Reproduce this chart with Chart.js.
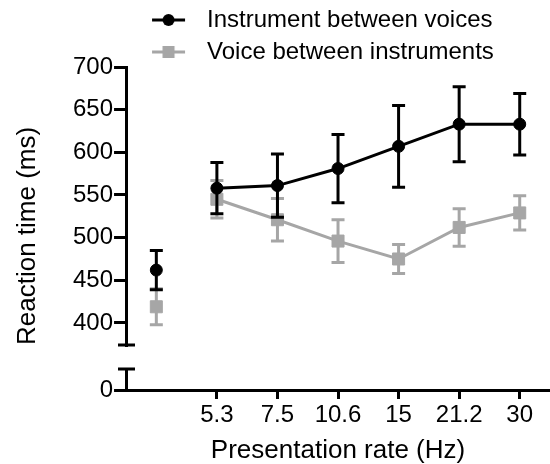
<!DOCTYPE html>
<html>
<head>
<meta charset="utf-8">
<script src="https://cdn.jsdelivr.net/npm/chart.js@4/dist/chart.umd.min.js"></script>
<style>
  html, body { margin: 0; padding: 0; background: #fff; }
  #wrap { width: 550px; height: 464px; }
</style>
</head>
<body>
<div id="wrap"><canvas id="c" width="550" height="464"></canvas></div>
<script>
// ---- data ----
const categories = ['', '5.3', '7.5', '10.6', '15', '21.2', '30'];
const seriesNames = ['Instrument between voices', 'Voice between instruments'];
const instrumentMeans = [462, 558, 561, 581, 607, 633, 633];
const instrumentErrors = [23, 30, 37, 40, 48, 44, 36];
const voiceMeans = [419, 545, 521, 496, 475, 512, 529];
const voiceErrors = [21, 22, 25, 25, 17, 22, 20];
const upperTicks = [400, 450, 500, 550, 600, 650, 700];
const lowerTicks = [0];

const BLACK = '#000000';
const GRAY = '#a6a6a6';
const FONT = "'Liberation Sans', Arial, Helvetica, sans-serif";

Chart.defaults.font.family = FONT;
Chart.defaults.color = '#000';

function makeGlyph(color, shape) {
  const c = document.createElement('canvas');
  c.width = 61; c.height = 16;
  const g = c.getContext('2d');
  g.strokeStyle = color; g.fillStyle = color; g.lineWidth = 3;
  g.beginPath(); g.moveTo(18, 8); g.lineTo(51, 8); g.stroke();
  if (shape === 'circle') {
    g.beginPath(); g.arc(34.5, 8, 6, 0, Math.PI * 2); g.fill();
  } else {
    g.fillRect(34.5 - 6, 2, 12, 12);
  }
  return c;
}
const glyphs = [makeGlyph(BLACK, 'circle'), makeGlyph(GRAY, 'square')];

const errorBars = {
  id: 'errorBars',
  beforeDatasetDraw(chart, args) {
    const ds = chart.data.datasets[args.index];
    const meta = args.meta;
    const ys = chart.scales[meta.yAxisID];
    const ctx = chart.ctx;
    ctx.save();
    ctx.strokeStyle = ds.borderColor;
    ctx.lineWidth = 3;
    meta.data.forEach((pt, j) => {
      const v = ds.data[j], e = ds.errorValues[j];
      const top = ys.getPixelForValue(v + e), bot = ys.getPixelForValue(v - e);
      ctx.beginPath();
      ctx.moveTo(pt.x, top); ctx.lineTo(pt.x, bot);
      ctx.moveTo(pt.x - 6.5, top); ctx.lineTo(pt.x + 6.5, top);
      ctx.moveTo(pt.x - 6.5, bot); ctx.lineTo(pt.x + 6.5, bot);
      ctx.stroke();
    });
    ctx.restore();
  }
};

const axisBreak = {
  id: 'axisBreak',
  beforeLayout(chart) {
    const lg = chart.legend;
    if (lg && !lg._trimmed) {
      const f = lg.fit.bind(lg);
      lg.fit = function () { f(); this.height -= 7; };
      lg._trimmed = true;
    }
  },
  afterDraw(chart) {
    const t = chart.scales.yTop, b = chart.scales.yBottom;
    const x = Math.round(chart.chartArea.left - 1.5) + 1.5;
    const ctx = chart.ctx;
    ctx.save();
    ctx.strokeStyle = BLACK; ctx.lineWidth = 3;
    ctx.beginPath();
    ctx.moveTo(x - 8.5, t.bottom); ctx.lineTo(x + 8.5, t.bottom);
    ctx.moveTo(x - 8.5, b.top); ctx.lineTo(x + 8.5, b.top);
    ctx.stroke();
    ctx.restore();
  }
};

function keepTicks(list) {
  return function (scale) {
    scale.ticks = list.map(v => ({ value: v }));
  };
}

new Chart(document.getElementById('c'), {
  type: 'line',
  data: {
    labels: categories,
    datasets: [
      {
        label: seriesNames[0],
        data: instrumentMeans,
        errorValues: instrumentErrors,
        yAxisID: 'yTop',
        borderColor: BLACK,
        backgroundColor: BLACK,
        borderWidth: 3,
        pointStyle: 'circle',
        pointRadius: 6,
        pointBorderWidth: 1,
        pointHoverRadius: 6,
        tension: 0,
        segment: { borderColor: c => c.p0DataIndex === 0 ? 'rgba(0,0,0,0)' : undefined }
      },
      {
        label: seriesNames[1],
        data: voiceMeans,
        errorValues: voiceErrors,
        yAxisID: 'yTop',
        borderColor: GRAY,
        backgroundColor: GRAY,
        borderWidth: 3,
        pointStyle: 'rect',
        pointRadius: 8.5,
        pointBorderWidth: 1,
        pointHoverRadius: 8.5,
        tension: 0,
        segment: { borderColor: c => c.p0DataIndex === 0 ? 'rgba(0,0,0,0)' : undefined }
      }
    ]
  },
  options: {
    responsive: false,
    animation: false,
    layout: { autoPadding: false, padding: { left: 42, right: 0, top: 0, bottom: 0 } },
    plugins: {
      tooltip: { enabled: false },
      legend: {
        position: 'top',
        align: 'start',
        fullSize: false,
        labels: {
          usePointStyle: true,
          pointStyleWidth: 61,
          padding: 8,
          color: '#000',
          font: { size: 24, family: FONT },
          generateLabels(chart) {
            const items = Chart.defaults.plugins.legend.labels.generateLabels(chart);
            items.forEach((it, i) => { it.pointStyle = glyphs[i]; });
            return items;
          }
        }
      }
    },
    scales: {
      x: {
        type: 'category',
        offset: true,
        grid: {
          offset: false,
          drawOnChartArea: false,
          tickLength: 9,
          lineWidth: 3,
          color: c => c.index === 0 ? 'rgba(0,0,0,0)' : BLACK
        },
        border: { display: true, color: BLACK, width: 3 },
        ticks: { font: { size: 24 }, color: '#000', padding: 1.6, maxRotation: 0, autoSkip: false },
        title: {
          display: true,
          text: 'Presentation rate (Hz)',
          color: '#000',
          font: { size: 26, lineHeight: 1 },
          padding: { top: 7, bottom: 0 }
        }
      },
      yBottom: {
        type: 'linear',
        position: 'left',
        stack: 'ystack',
        stackWeight: 21,
        weight: 1,
        display: true,
        min: 0,
        max: 25,
        afterBuildTicks: keepTicks(lowerTicks),
        grid: { drawOnChartArea: false, tickLength: 12, lineWidth: 3, color: BLACK },
        border: { display: true, color: BLACK, width: 3 },
        ticks: { font: { size: 24 }, color: '#000', padding: 1 }
      },
      yGap: {
        type: 'linear',
        position: 'left',
        stack: 'ystack',
        stackWeight: 24,
        weight: 2,
        display: true,
        grid: { display: false },
        border: { display: false },
        ticks: { display: false }
      },
      yTop: {
        type: 'linear',
        position: 'left',
        stack: 'ystack',
        stackWeight: 278,
        weight: 3,
        display: true,
        min: 374.2,
        max: 700,
        afterBuildTicks: keepTicks(upperTicks),
        grid: { drawOnChartArea: false, tickLength: 12, lineWidth: 3, color: BLACK },
        border: { display: true, color: BLACK, width: 3 },
        ticks: { font: { size: 24 }, color: '#000', padding: 1 },
        title: {
          display: true,
          text: 'Reaction time (ms)',
          align: 'start',
          color: '#000',
          font: { size: 26, lineHeight: 1 },
          padding: { top: -27, bottom: 31 }
        }
      }
    }
  },
  plugins: [errorBars, axisBreak]
});
</script>
</body>
</html>
